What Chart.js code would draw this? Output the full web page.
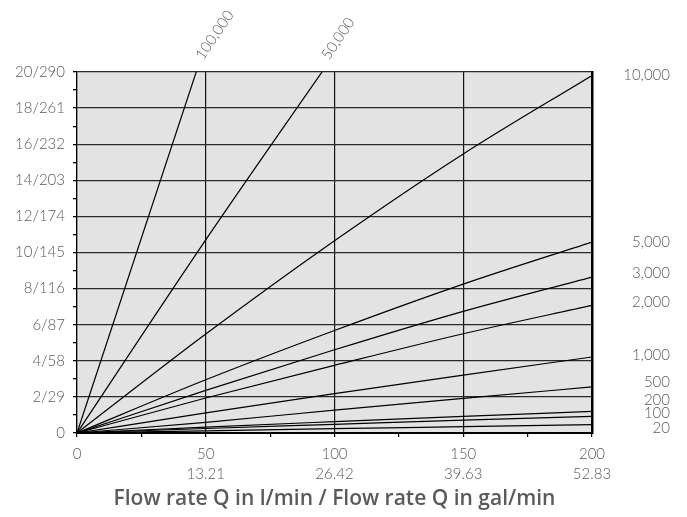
<!DOCTYPE html>
<html lang="en">
	<head>
		<meta charset="UTF-8" />
		<title>Pressure drop vs flow rate</title>
		<script src="https://cdn.jsdelivr.net/npm/chart.js"></script>
		<style>
			html, body { margin: 0; padding: 0; background: #fff; }
			.chart_container { width: 687px; height: 517px; }
		</style>
	</head>
	<body>
		<div class="chart_container">
			<canvas id="myChart"></canvas>
		</div>

		<script>
			// flow rate in l/min and matching gal/min labels
			const flowLpm = [0, 50, 100, 150, 200];
			const flowGpm = ['', '13.21', '26.42', '39.63', '52.83'];

			// pressure axis labels (bar/psi), every 2 bar
			const pressureLabels = ['0', '2/29', '4/58', '6/87', '8/116', '10/145', '12/174', '14/203', '16/232', '18/261', '20/290'];

			// viscosity curves, pressure at each flow value above
			const visc100000 = [0, 21.6];
			const visc50000 = [0, 10.7, 21.0];
			const visc10000 = [0, 5.48, 10.65, 15.46, 19.81];
			const visc5000 = [0, 2.95, 5.68, 8.25, 10.58];
			const visc3000 = [0, 2.36, 4.61, 6.74, 8.64];
			const visc2000 = [0, 1.94, 3.75, 5.5, 7.07];
			const visc1000 = [0, 1.11, 2.18, 3.21, 4.21];
			const visc500 = [0, 0.59, 1.27, 1.92, 2.55];
			const visc200 = [0, 0.33, 0.63, 0.92, 1.2];
			const visc100 = [0, 0.25, 0.48, 0.71, 0.92];
			const visc20 = [0, 0.12, 0.24, 0.35, 0.46];

			const seriesList = [visc100000, visc50000, visc10000, visc5000, visc3000, visc2000, visc1000, visc500, visc200, visc100, visc20];
			const seriesNames = ['100,000', '50,000', '10,000', '5,000', '3,000', '2,000', '1,000', '500', '200', '100', '20'];

			// right hand labels (curves ending inside the chart), spread a bit apart
			const rightNames = ['10,000', '5,000', '3,000', '2,000', '1,000', '500', '200', '100', '20'];
			const rightLabelAt = [19.85, 10.6, 8.88, 7.27, 4.34, 2.79, 1.84, 1.12, 0.29];

			const textColor = '#5a5a5a';
			const fontFamily = 'Lato, "Noto Sans", sans-serif';
			const titleFamily = '"Open Sans", Lato, sans-serif';

			const datasets = seriesList.map(function (vals, i) {
				return {
					label: seriesNames[i],
					data: vals.map(function (v, j) {
						return { x: flowLpm[j], y: v };
					}),
					borderColor: '#000',
					borderWidth: 1.2,
					pointRadius: 0,
					cubicInterpolationMode: 'monotone',
				};
			});

			// grey plot background
			const plotBackground = {
				id: 'plotBackground',
				beforeDraw(chart) {
					const a = chart.chartArea;
					const ctx = chart.ctx;
					ctx.save();
					ctx.fillStyle = '#e3e3e3';
					ctx.fillRect(a.left, a.top, a.right - a.left, a.bottom - a.top);
					ctx.restore();
				},
			};

			// rotated labels where curves leave through the top
			const topLabels = {
				id: 'topLabels',
				afterDatasetsDraw(chart) {
					const xs = chart.scales.x;
					const ys = chart.scales.y;
					const ctx = chart.ctx;
					const yMax = ys.max;
					chart.data.datasets.forEach(function (ds) {
						const pts = ds.data;
						for (let i = 0; i < pts.length - 1; i++) {
							const p0 = pts[i];
							const p1 = pts[i + 1];
							if (p0.y <= yMax && p1.y > yMax) {
								const q = p0.x + ((yMax - p0.y) * (p1.x - p0.x)) / (p1.y - p0.y);
								const px = xs.getPixelForValue(q);
								const py = ys.getPixelForValue(yMax);
								ctx.save();
								ctx.translate(px + 3, py - 14);
								ctx.rotate((-56 * Math.PI) / 180);
								ctx.font = '300 15px ' + fontFamily;
								ctx.fillStyle = textColor;
								ctx.textAlign = 'left';
								ctx.textBaseline = 'middle';
								ctx.fillText(ds.label, 0, 0);
								ctx.restore();
							}
						}
					});
				},
			};

			const config = {
				type: 'line',
				data: { datasets: datasets },
				options: {
					responsive: true,
					maintainAspectRatio: false,
					animation: false,
					layout: {
						padding: { top: 72, right: 17, bottom: 5, left: 0 },
					},
					plugins: {
						legend: { display: false },
						tooltip: { enabled: false },
					},
					scales: {
						x: {
							type: 'linear',
							min: 0,
							max: 200,
							afterBuildTicks: (scale) => {
								const t = [];
								for (let v = 0; v <= 200; v += 25) t.push({ value: v });
								scale.ticks = t;
							},
							afterFit: (scale) => {
								scale.height = 79;
							},
							border: { color: '#000', width: 2 },
							grid: {
								color: (c) => (c.tick && c.tick.value % 50 === 0 ? '#111' : 'rgba(0,0,0,0)'),
								tickColor: '#000',
								lineWidth: 1.2,
								tickLength: 4,
							},
							ticks: {
								autoSkip: false,
								maxRotation: 0,
								color: textColor,
								padding: 7,
								font: { family: fontFamily, size: 15, weight: '300', lineHeight: 1.35 },
								callback: (value) => {
									if (value % 50 !== 0) return '';
									const i = flowLpm.indexOf(value);
									return value === 0 ? String(value) : [String(value), flowGpm[i]];
								},
							},
							title: {
								display: true,
								text: 'Flow rate Q in l/min / Flow rate Q in gal/min',
								color: textColor,
								font: { family: titleFamily, size: 21, weight: '600' },
								padding: { top: 0, bottom: 0 },
							},
						},
						y: {
							type: 'linear',
							position: 'left',
							min: 0,
							max: 20,
							afterBuildTicks: (scale) => {
								const t = [];
								for (let v = 0; v <= 20; v += 1) t.push({ value: v });
								scale.ticks = t;
							},
							afterFit: (scale) => {
								scale.width = 77;
							},
							border: { color: '#000', width: 1.2 },
							grid: {
								color: (c) => (c.tick && c.tick.value % 2 === 0 ? '#2a2a2a' : 'rgba(0,0,0,0)'),
								tickColor: '#000',
								lineWidth: 1.3,
								tickLength: 4,
							},
							ticks: {
								autoSkip: false,
								color: textColor,
								padding: 8,
								font: { family: fontFamily, size: 15, weight: '300' },
								callback: (value) => (value % 2 === 0 ? pressureLabels[value / 2] : ''),
							},
						},
						y2: {
							type: 'linear',
							position: 'right',
							min: 0,
							max: 20,
							afterBuildTicks: (scale) => {
								scale.ticks = rightLabelAt.map((v) => ({ value: v }));
							},
							afterFit: (scale) => {
								scale.width = 78;
							},
							border: { color: '#000', width: 2.5 },
							grid: { drawOnChartArea: false, drawTicks: false },
							ticks: {
								autoSkip: false,
								crossAlign: 'far',
								color: textColor,
								font: { family: fontFamily, size: 15, weight: '300' },
								callback: (value, index) => rightNames[index],
							},
						},
					},
				},
				plugins: [plotBackground, topLabels],
			};

			new Chart(document.getElementById('myChart'), config);
		</script>
	</body>
</html>
